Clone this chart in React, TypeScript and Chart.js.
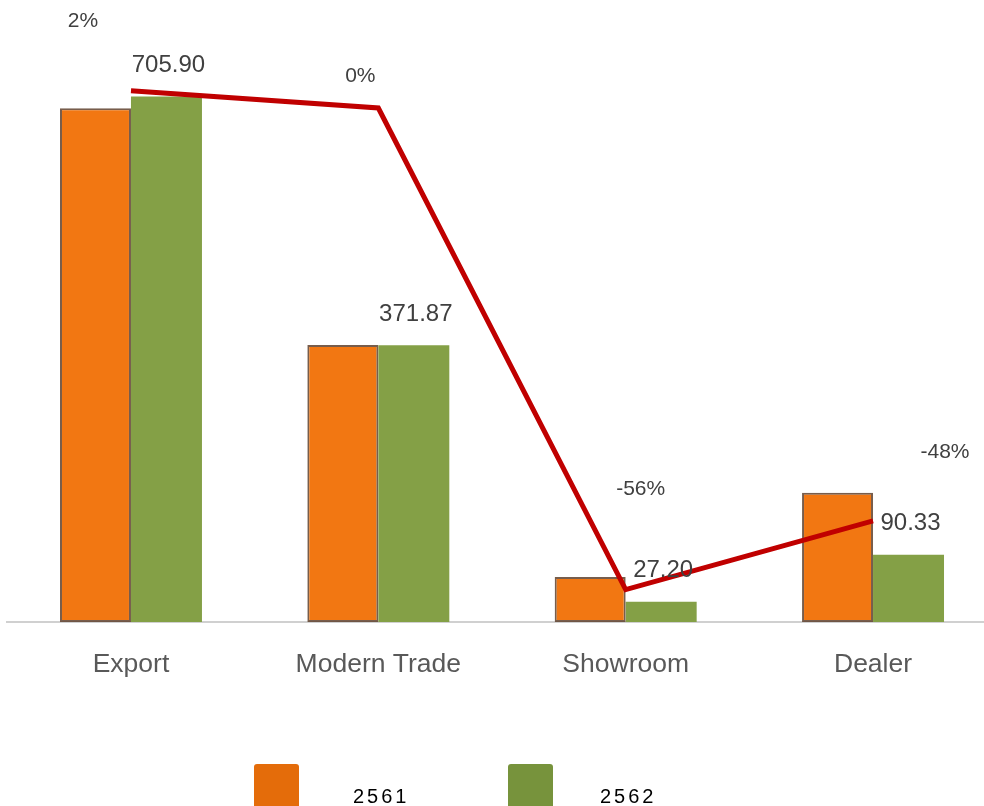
import React, { useEffect, useRef } from 'react';
import { Chart, registerables } from 'chart.js';

Chart.register(...registerables);

const categories = ['Export', 'Modern Trade', 'Showroom', 'Dealer'];
const seriesNames = ['2561', '2562'];
const values2561 = [690, 372, 60.5, 173.5];
const values2562 = [705.9, 371.87, 27.2, 90.33];
const growthPct = [2, 0, -56, -48];

// label placement offsets (layout only)
const pctOffsets: [number, number][] = [[-48, -70], [-18, -32], [15, -100], [72, -69]];

const FONT = "'Liberation Sans', Arial, sans-serif";
const ORANGE = '#F27712';
const GREEN = '#84A046';
const LEG_ORANGE = '#E46C0A';
const LEG_GREEN = '#77933C';

const labelPlugin = {
  id: 'customLabels',
  afterDatasetsDraw(chart: any) {
    const ctx = chart.ctx;
    ctx.save();
    const barMeta = chart.getDatasetMeta(1);
    ctx.font = `24px ${FONT}`;
    ctx.fillStyle = '#404040';
    ctx.textAlign = 'center';
    ctx.textBaseline = 'middle';
    barMeta.data.forEach((el: any, i: number) => {
      ctx.fillText(values2562[i].toFixed(2), el.x + 2, el.y - 31);
    });
    const lineMeta = chart.getDatasetMeta(2);
    ctx.font = `21px ${FONT}`;
    lineMeta.data.forEach((el: any, i: number) => {
      const [dx, dy] = pctOffsets[i];
      ctx.fillText(`${growthPct[i]}%`, el.x + dx, el.y + dy);
    });
    ctx.restore();
  },
  afterDraw(chart: any) {
    const ctx = chart.ctx;
    ctx.save();
    const items = [
      { color: LEG_ORANGE, bx: 254, tx: 353, text: seriesNames[0] },
      { color: LEG_GREEN, bx: 508, tx: 600, text: seriesNames[1] },
    ];
    items.forEach((it) => {
      ctx.fillStyle = it.color;
      ctx.beginPath();
      (ctx as any).roundRect(it.bx, 764, 45, 46, 3);
      ctx.fill();
      ctx.fillStyle = '#000000';
      ctx.font = `20px ${FONT}`;
      (ctx as any).letterSpacing = '3px';
      ctx.textAlign = 'left';
      ctx.textBaseline = 'alphabetic';
      ctx.fillText(it.text, it.tx, 803);
      (ctx as any).letterSpacing = '0px';
    });
    ctx.restore();
  },
};

export default function App() {
  const ref = useRef<HTMLCanvasElement>(null);
  useEffect(() => {
    if (!ref.current) return;
    const chart = new Chart(ref.current, {
      type: 'bar',
      data: {
        labels: categories,
        datasets: [
          {
            label: seriesNames[0],
            data: values2561,
            backgroundColor: ORANGE,
            borderColor: 'rgba(95,65,45,0.85)',
            borderWidth: 2,
            borderSkipped: false,
            yAxisID: 'y',
            order: 1,
          },
          {
            label: seriesNames[1],
            data: values2562,
            backgroundColor: GREEN,
            borderWidth: 0,
            yAxisID: 'y',
            order: 1,
          },
          {
            type: 'line',
            label: 'growth',
            data: growthPct,
            borderColor: '#C00000',
            borderWidth: 5,
            pointRadius: 0,
            tension: 0,
            fill: false,
            yAxisID: 'y1',
            order: 0,
          } as any,
        ],
      },
      options: {
        animation: false,
        responsive: false,
        maintainAspectRatio: false,
        layout: { padding: { left: 7.3, right: 3.3, top: 0, bottom: 0 } },
        plugins: { legend: { display: false }, tooltip: { enabled: false } },
        datasets: { bar: { categoryPercentage: 0.574, barPercentage: 1 } },
        scales: {
          x: {
            grid: { display: false },
            border: { display: true, color: '#D0D0D0', width: 2 },
            ticks: { font: { size: 26.5, family: FONT }, color: '#595959', padding: 19 },
            afterFit: (scale: any) => { scale.height = 184; },
          },
          y: { display: false, min: 0, max: 835.5 },
          y1: { display: false, min: -59.77, max: 12.56 },
        },
      } as any,
      plugins: [labelPlugin],
    });
    return () => chart.destroy();
  }, []);
  return (
    <div style={{ position: 'fixed', left: 0, top: 0, width: 984, height: 806, overflow: 'hidden', background: '#fff' }}>
      <canvas ref={ref} width={1000} height={806} style={{ display: 'block', width: 1000, height: 806 }} />
    </div>
  );
}
